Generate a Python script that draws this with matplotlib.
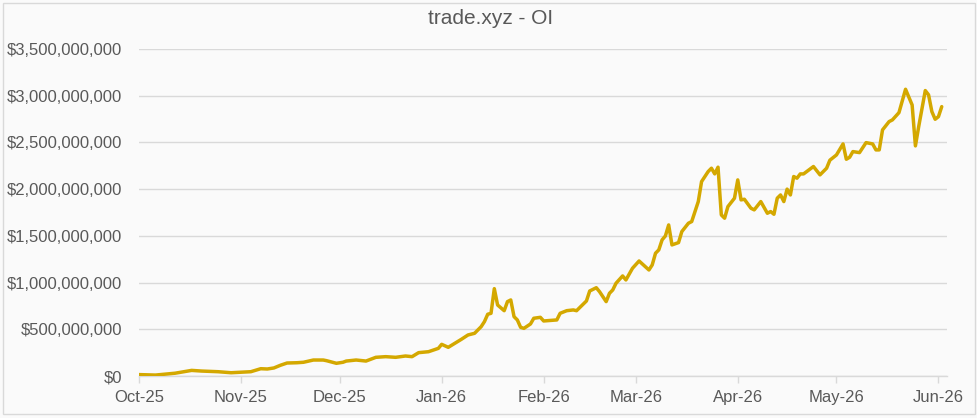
import matplotlib
matplotlib.use("Agg")
import matplotlib.pyplot as plt
import matplotlib.dates as mdates
import matplotlib.ticker as mticker
from matplotlib.patches import Rectangle
import pandas as pd

title = "trade.xyz - OI"

dates = [
    "2025-10-01", "2025-10-06", "2025-10-12", "2025-10-17", "2025-10-20", "2025-10-25",
    "2025-10-29", "2025-11-01", "2025-11-04", "2025-11-07", "2025-11-09", "2025-11-11",
    "2025-11-13", "2025-11-15", "2025-11-18", "2025-11-20", "2025-11-23", "2025-11-26",
    "2025-11-27", "2025-11-30", "2025-12-02", "2025-12-03", "2025-12-06", "2025-12-09",
    "2025-12-12", "2025-12-15", "2025-12-18", "2025-12-21", "2025-12-23", "2025-12-25",
    "2025-12-28", "2025-12-31", "2026-01-01", "2026-01-03", "2026-01-05", "2026-01-07",
    "2026-01-09", "2026-01-11", "2026-01-13", "2026-01-14", "2026-01-15", "2026-01-16",
    "2026-01-17", "2026-01-18", "2026-01-20", "2026-01-21", "2026-01-22", "2026-01-23",
    "2026-01-24", "2026-01-25", "2026-01-26", "2026-01-28", "2026-01-29", "2026-01-31",
    "2026-02-01", "2026-02-05", "2026-02-06", "2026-02-08", "2026-02-10", "2026-02-11",
    "2026-02-14", "2026-02-15", "2026-02-17", "2026-02-18", "2026-02-20", "2026-02-21",
    "2026-02-22", "2026-02-23", "2026-02-25", "2026-02-26", "2026-02-28", "2026-03-02",
    "2026-03-05", "2026-03-06", "2026-03-07", "2026-03-08", "2026-03-09", "2026-03-10",
    "2026-03-11", "2026-03-12", "2026-03-14", "2026-03-15", "2026-03-17", "2026-03-18",
    "2026-03-20", "2026-03-21", "2026-03-23", "2026-03-24", "2026-03-25", "2026-03-26",
    "2026-03-27", "2026-03-28", "2026-03-29", "2026-03-31", "2026-04-01", "2026-04-02",
    "2026-04-03", "2026-04-05", "2026-04-06", "2026-04-08", "2026-04-10", "2026-04-11",
    "2026-04-12", "2026-04-13", "2026-04-14", "2026-04-15", "2026-04-16", "2026-04-17",
    "2026-04-18", "2026-04-19", "2026-04-20", "2026-04-21", "2026-04-24", "2026-04-26",
    "2026-04-28", "2026-04-29", "2026-05-01", "2026-05-03", "2026-05-04", "2026-05-05",
    "2026-05-06", "2026-05-08", "2026-05-10", "2026-05-12", "2026-05-13", "2026-05-14",
    "2026-05-15", "2026-05-17", "2026-05-18", "2026-05-20", "2026-05-22", "2026-05-24",
    "2026-05-25", "2026-05-26", "2026-05-28", "2026-05-29", "2026-05-30", "2026-05-31",
    "2026-06-01", "2026-06-02",
]

oi_millions = [
    15, 10, 30, 60, 53, 46,
    35, 40, 46, 78, 75, 86,
    115, 139, 142, 147, 171, 171,
    164, 136, 147, 160, 171, 160,
    200, 207, 200, 214, 207, 250,
    260, 296, 339, 307, 350, 393,
    439, 457, 528, 582, 661, 671,
    935, 760, 699, 796, 814, 635,
    600, 521, 510, 557, 618, 628,
    589, 600, 671, 699, 707, 699,
    803, 910, 945, 902, 796, 885,
    921, 993, 1071, 1028, 1153, 1231,
    1135, 1189, 1314, 1350, 1457, 1499,
    1617, 1403, 1428, 1546, 1635, 1653,
    1867, 2081, 2188, 2224, 2163, 2235,
    1724, 1689, 1813, 1903, 2099, 1885,
    1892, 1796, 1778, 1867, 1742, 1760,
    1731, 1903, 1938, 1867, 2000, 1938,
    2135, 2117, 2163, 2163, 2242, 2153,
    2224, 2310, 2366, 2484, 2320, 2341,
    2402, 2391, 2498, 2484, 2420, 2420,
    2634, 2723, 2741, 2819, 3069, 2901,
    2463, 2670, 3055, 3009, 2830, 2748,
    2776, 2883,
]

month_ticks = ["2025-10-01", "2025-11-01", "2025-12-01", "2026-01-01", "2026-02-01",
               "2026-03-01", "2026-04-01", "2026-05-01", "2026-06-01"]

x = pd.to_datetime(dates)
y = [v * 1e6 for v in oi_millions]

text_color = "#595959"
line_color = "#D4A800"
grid_color = "#D9D9D9"
bg = "#FAFAFA"
font = "Liberation Sans"

fig = plt.figure(figsize=(9.78, 4.18), dpi=100, facecolor=bg)
ax = fig.add_axes([139 / 978, 1 - 376 / 418, (947 - 139) / 978, (376 - 49) / 418])
ax.set_facecolor(bg)

ax.plot(x, y, color=line_color, lw=2.5, solid_joinstyle="round", solid_capstyle="round", zorder=3)

ax.set_ylim(0, 3.5e9)
ax.yaxis.set_major_locator(mticker.MultipleLocator(5e8))
ax.yaxis.set_major_formatter(mticker.FuncFormatter(lambda v, p: "${:,.0f}".format(v)))
ax.grid(axis="y", color=grid_color, lw=1.0, zorder=0)
ax.set_axisbelow(True)

ax.set_xlim(pd.Timestamp("2025-10-01"), pd.Timestamp("2025-10-01") + pd.Timedelta(days=245.6))
ax.set_xticks(pd.to_datetime(month_ticks))
ax.xaxis.set_major_formatter(mdates.DateFormatter("%b-%y"))

for s in ["top", "right", "left"]:
    ax.spines[s].set_visible(False)
ax.spines["bottom"].set_color(grid_color)
ax.spines["bottom"].set_linewidth(1.0)

ax.tick_params(axis="y", length=0, pad=12, labelsize=12, labelcolor=text_color)
ax.tick_params(axis="x", length=5, width=1, color=grid_color, pad=5, labelsize=12, labelcolor=text_color)
for lab in ax.get_xticklabels() + ax.get_yticklabels():
    lab.set_fontfamily(font)

fig.text(491 / 978, 1 - 18 / 418, title, ha="center", va="center", fontsize=15,
         color=text_color, fontfamily=font)

fig.patches.append(Rectangle((3 / 978, 4 / 418), 972 / 978, 411 / 418, transform=fig.transFigure,
                             fill=False, edgecolor=grid_color, lw=1.0))

fig.savefig("out.png", dpi=100, facecolor=bg)
